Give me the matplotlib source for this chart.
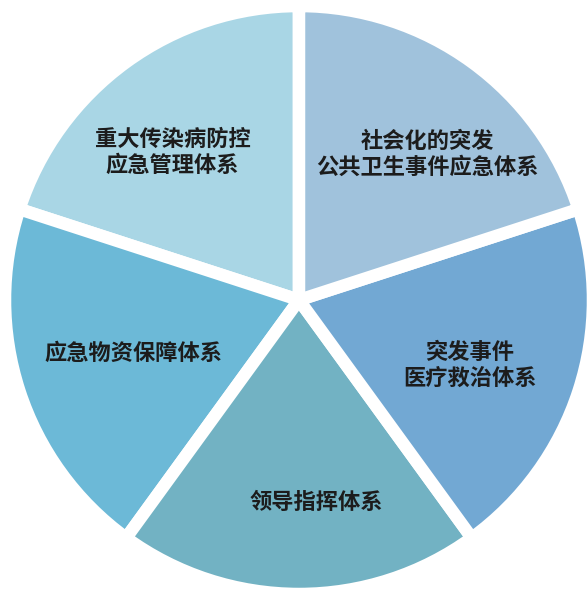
import numpy as np
import matplotlib
matplotlib.use("Agg")
import matplotlib.pyplot as plt

plt.rcParams['font.family'] = ['Noto Sans CJK SC', 'DejaVu Sans']

# Data: five equal parts of the emergency system
labels = ['重大传染病防控\n应急管理体系', '应急物资保障体系', '领导指挥体系',
          '突发事件\n医疗救治体系', '社会化的突发\n公共卫生事件应急体系']
values = [1, 1, 1, 1, 1]
colors = ['#a9d6e5', '#6cb9d7', '#72b2c3', '#72a8d3', '#a0c2dc']
label_dist = [0.67, 0.60, 0.70, 0.63, 0.67]
label_shift = [4.6, 0, 5, -3, -5.5]  # degrees

fig = plt.figure(figsize=(5.87, 5.90), dpi=100)
ax = fig.add_axes([0, 0, 1, 1])

cx, cy, r = 299, 290, 294
wedges, _ = ax.pie(values, colors=colors, startangle=90, counterclock=True,
                   center=(cx, cy), radius=r, frame=True,
                   wedgeprops=dict(edgecolor='white', linewidth=9))
ax.set_xlim(0, 587)
ax.set_ylim(0, 590)
ax.set_aspect('equal')
ax.axis('off')

for w, lab, d, s in zip(wedges, labels, label_dist, label_shift):
    ang = np.deg2rad((w.theta1 + w.theta2) / 2 + s)
    x = cx + d * 290 * np.cos(ang)
    y = cy + d * 290 * np.sin(ang)
    ax.text(x, y, lab, ha='center', va='center', fontsize=16,
            fontweight='bold', color='#1c1c1c', linespacing=1.2)

fig.savefig('out.png', dpi=100)
